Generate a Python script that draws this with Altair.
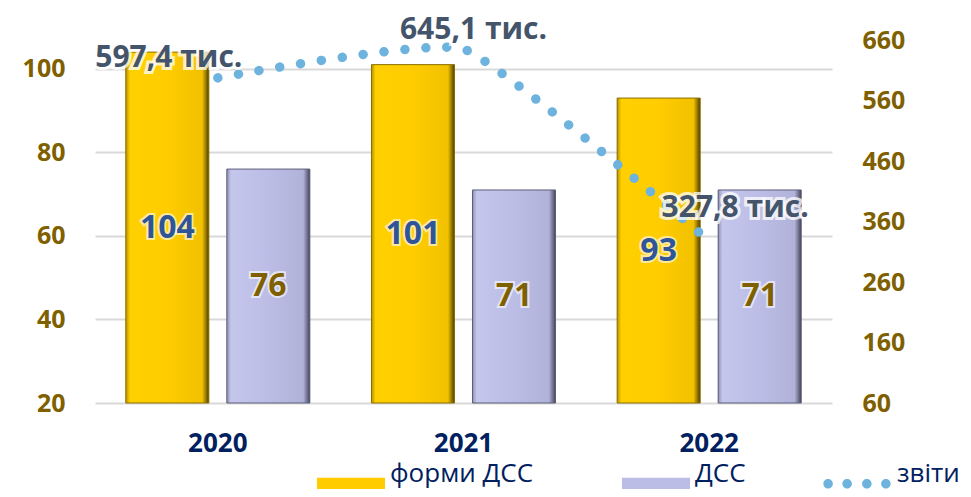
import altair as alt
import pandas as pd

years = ["2020", "2021", "2022"]
formy_dss = [104, 101, 93]
dss = [76, 71, 71]
zvity = [597.4, 645.1, 327.8]
series_names = ["форми ДСС", "ДСС", "звіти"]
series_colors = ["#FFCC00", "#BBBDE6", "#6DB3DE"]

rows = []
for y, a, b in zip(years, formy_dss, dss):
    rows.append({"year": y, "series": series_names[0], "value": a})
    rows.append({"year": y, "series": series_names[1], "value": b})
bars_df = pd.DataFrame(rows)
line_df = pd.DataFrame({"year": years, "zvity": zvity, "series": [series_names[2]] * len(years)})

FONT = "Open Sans"

x_enc = alt.X("year:N", title=None,
              scale=alt.Scale(paddingInner=0, paddingOuter=0),
              axis=alt.Axis(labelFontSize=26, labelFontWeight="bold", labelColor="#002060",
                            labelPadding=27, domain=False, ticks=False, labelAngle=0, labelFont=FONT))
xoff = alt.XOffset("series:N", scale=alt.Scale(domain=series_names[:2], paddingInner=0.178, paddingOuter=0.305))

y_left_scale = alt.Scale(domain=[20, 106.9], nice=False, zero=False)
y_left_axis = alt.Axis(values=[20, 40, 60, 80, 100], grid=True, gridColor="#D9D9D9", gridWidth=2,
                       domain=False, ticks=False, labelFontSize=25, labelFontWeight="bold",
                       labelColor="#7F6000", labelPadding=30, labelFont=FONT, title=None)
y_left = alt.Y("value:Q", title=None, scale=y_left_scale, axis=y_left_axis)

rect_path = "M-1,0.11L1,0.11L1,0.47L-1,0.47Z"
dot_path = ("M-0.99,0.29a0.14,0.14 0 1,0 0.28,0a0.14,0.14 0 1,0 -0.28,0Z"
            "M-0.43,0.29a0.14,0.14 0 1,0 0.28,0a0.14,0.14 0 1,0 -0.28,0Z"
            "M0.15,0.29a0.14,0.14 0 1,0 0.28,0a0.14,0.14 0 1,0 -0.28,0Z"
            "M0.71,0.29a0.14,0.14 0 1,0 0.28,0a0.14,0.14 0 1,0 -0.28,0Z")

bar_legend = alt.Legend(
    title=None, orient="none", direction="horizontal", legendX=222, legendY=400,
    symbolType=rect_path, symbolSize=4624, symbolStrokeWidth=0,
    labelFontSize=26, labelColor="#002060", labelFont=FONT, labelOffset=5,
    columnPadding=88, padding=0,
)
line_legend = alt.Legend(
    title=None, orient="none", direction="horizontal", legendX=728, legendY=400,
    symbolType=dot_path, symbolSize=4624, symbolStrokeWidth=0, symbolFillColor="#6DB3DE",
    symbolOpacity=1,
    labelFontSize=26, labelColor="#002060", labelFont=FONT, labelOffset=6, padding=0,
)

base_bars = alt.Chart(bars_df).mark_bar().encode(
    x=x_enc, xOffset=xoff, y=y_left, y2=alt.datum(20),
    color=alt.Color("series:N", scale=alt.Scale(domain=series_names[:2], range=series_colors[:2]),
                    legend=bar_legend),
)


def grad(stops):
    return {"gradient": "linear", "x1": 0, "y1": 0, "x2": 1, "y2": 0,
            "stops": [{"offset": o, "color": c} for o, c in stops]}


gold_grad = grad([(0, "#B89200"), (0.05, "#FFD000"), (0.5, "#FFCC00"), (0.92, "#F2C100"),
                  (0.97, "#8C7000"), (1, "#4D3D00")])
purple_grad = grad([(0, "#8D8FB0"), (0.05, "#C4C6EC"), (0.5, "#BBBDE6"), (0.92, "#B0B2D8"),
                    (0.97, "#6E6F8C"), (1, "#3F4050")])

gold_bars = alt.Chart(bars_df).transform_filter(alt.datum.series == series_names[0]).mark_bar(
    fill=gold_grad, stroke="#8A6E00", strokeWidth=1).encode(x=x_enc, xOffset=xoff, y=y_left, y2=alt.datum(20))
purple_bars = alt.Chart(bars_df).transform_filter(alt.datum.series == series_names[1]).mark_bar(
    fill=purple_grad, stroke="#5E5F7A", strokeWidth=1).encode(x=x_enc, xOffset=xoff, y=y_left, y2=alt.datum(20))

bar_text_base = alt.Chart(bars_df).transform_calculate(mid="(datum.value + 20) / 2").encode(
    x=x_enc, xOffset=xoff, y=alt.Y("mid:Q", scale=y_left_scale, axis=y_left_axis, title=None),
    text=alt.Text("value:Q"))
bar_halo = bar_text_base.mark_text(font=FONT, fontSize=32, fontWeight="bold", stroke="white",
                                   strokeWidth=4, strokeOpacity=0.6, fill="white", baseline="middle")
bar_txt = bar_text_base.mark_text(font=FONT, fontSize=32, fontWeight="bold", baseline="middle").encode(
    color=alt.condition(alt.datum.series == series_names[0], alt.value("#2F5597"), alt.value("#7F6000")))

left_layer = alt.layer(base_bars, gold_bars, purple_bars, bar_halo, bar_txt)

y_right_scale = alt.Scale(domain=[60, 660], nice=False, zero=False)
y_right_axis = alt.Axis(orient="right", values=list(range(60, 661, 100)), grid=False, domain=False,
                        ticks=False, labelFontSize=25, labelFontWeight="bold", labelColor="#7F6000",
                        labelPadding=30, labelFont=FONT, title=None)
y_right = alt.Y("zvity:Q", title=None, scale=y_right_scale, axis=y_right_axis)

line = alt.Chart(line_df).mark_line(interpolate="cardinal", tension=0.6, strokeWidth=9.5,
                                    strokeDash=[0.01, 21], strokeCap="round").encode(
    x=x_enc, y=y_right,
    color=alt.Color("series:N", scale=alt.Scale(domain=series_names[2:], range=series_colors[2:]),
                    legend=line_legend))

label_offsets = [(-49, -20), (10, -19), (26, -33)]
line_labels = []
for yr, (dx, dy) in zip(years, label_offsets):
    tb = alt.Chart(line_df).transform_filter(alt.datum.year == yr).transform_calculate(
        lab="replace(format(datum.zvity, '.1f'), '.', ',') + ' тис.'").encode(
        x=x_enc, y=y_right, text="lab:N")
    line_labels.append(tb.mark_text(font=FONT, fontSize=30, fontWeight="bold", dx=dx, dy=dy,
                                    stroke="white", strokeWidth=6, strokeOpacity=0.75, fill="white"))
    line_labels.append(tb.mark_text(font=FONT, fontSize=30, fontWeight="bold", dx=dx, dy=dy,
                                    color="#44546A"))

right_layer = alt.layer(line, *line_labels)

chart = alt.layer(left_layer, right_layer).resolve_scale(y="independent", color="independent").resolve_legend(
    color="independent").properties(
    width=737, height=363,
    autosize=alt.AutoSizeParams(type="none"),
    padding={"left": 87, "top": 32, "right": 131, "bottom": 86},
).configure(font=FONT).configure_view(stroke="transparent", strokeWidth=0)

chart.save("out.html", embed_options={"renderer": "svg", "actions": False})
